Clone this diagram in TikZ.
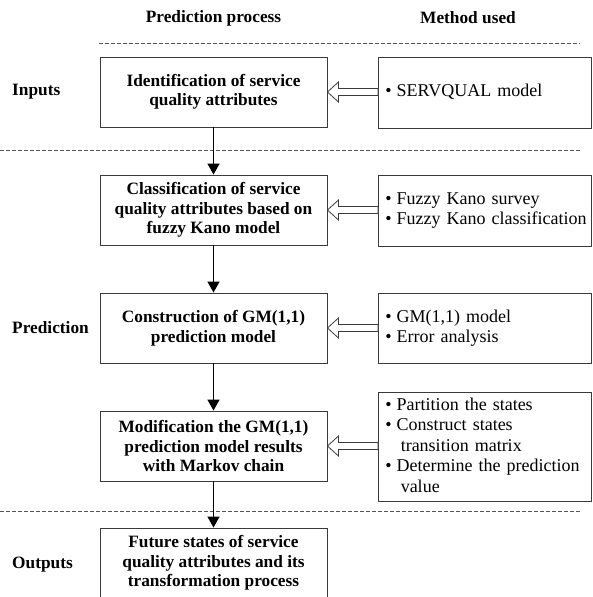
\documentclass[tikz,border=0pt]{standalone}
\usepackage{fontspec}
\setmainfont{Liberation Serif}
\usetikzlibrary{arrows.meta,calc}
\definecolor{boxc}{HTML}{3A3A3A}
\definecolor{sepc}{HTML}{555555}
\begin{document}
\begin{tikzpicture}[x=1pt,y=-1pt,
  leftbox/.style={draw=boxc, line width=0.9pt, minimum width=227pt, minimum height=70pt,
    inner sep=0pt, align=center, font=\bfseries\fontsize{17.3}{19.5}\selectfont},
  rightbox/.style={draw=boxc, line width=0.9pt, minimum width=213pt, inner xsep=7pt,
    text width=199pt, align=left, anchor=north west, font=\fontsize{18}{20.5}\selectfont},
  lab/.style={font=\bfseries\fontsize{17.3}{19.5}\selectfont, inner sep=0pt},
  seplin/.style={draw=sepc, line width=0.8pt, dash pattern=on 4pt off 2pt},
  downarr/.style={draw=black, line width=1.4pt, -{Triangle[width=12pt,length=11pt]}},
  hollowarr/.style={draw=boxc, line width=0.8pt, fill=white, line join=miter}
]
\useasboundingbox (0,0) rectangle (592,597);

% headers
\node[lab] (h1) at (213.5,18) {Prediction process};
\node[lab] (h2) at (468,18) {Method used};

% separators
\coordinate (s1a) at (99,43);  \coordinate (s1b) at (580,43);
\coordinate (s2a) at (0,150);  \coordinate (s2b) at (580,150);
\coordinate (s3a) at (0,511);  \coordinate (s3b) at (580,511);
\draw[seplin] (s1a) -- (s1b);
\draw[seplin] (s2a) -- (s2b);
\draw[seplin] (s3a) -- (s3b);

% stage labels
\node[lab, anchor=west] (l1) at (12,92) {Inputs};
\node[lab, anchor=west] (l2) at (12,328) {Prediction};
\node[lab, anchor=west] (l3) at (12,565) {Outputs};

% left process boxes
\node[leftbox] (b1) at (213.5,92) {Identification of service\\quality attributes};
\node[leftbox] (b2) at (213.5,210) {Classification of service\\quality attributes based on\\fuzzy Kano model};
\node[leftbox] (b3) at (213.5,328) {Construction of GM(1,1)\\prediction model};
\node[leftbox] (b4) at (213.5,446) {Modification the GM(1,1)\\prediction model results\\with Markov chain};
\node[leftbox] (b5) at (213.5,563) {Future states of service\\quality attributes and its\\transformation process};

% right method boxes
\node[rightbox, minimum height=71pt] (r1) at (378,56.5) {%
  \begin{tabular}{@{}l@{\hspace{5pt}}l@{}}\textbullet & SERVQUAL model\end{tabular}};
\node[rightbox, minimum height=71pt] (r2) at (378,174.5) {%
  \begin{tabular}{@{}l@{\hspace{5pt}}l@{}}\textbullet & Fuzzy Kano survey\\ \textbullet & Fuzzy Kano classification\end{tabular}};
\node[rightbox, minimum height=70pt] (r3) at (378,293) {%
  \begin{tabular}{@{}l@{\hspace{5pt}}l@{}}\textbullet & GM(1,1) model\\ \textbullet & Error analysis\end{tabular}};
\node[rightbox, minimum height=103pt] (r4) at (378,392) {%
  \begin{tabular}{@{}l@{\hspace{5pt}}l@{}}\textbullet & Partition the states\\ \textbullet & Construct states\\ & \hspace{4pt}transition matrix\\ \textbullet & Determine the prediction\\ & \hspace{4pt}value\end{tabular}};

% down arrows
\draw[downarr] (b1.south) -- (b2.north);
\draw[downarr] (b2.south) -- (b3.north);
\draw[downarr] (b3.south) -- (b4.north);
\draw[downarr] (b4.south) -- (b5.north);

% hollow arrows from method to process
\foreach \i in {1,2,3,4}{
  \draw[hollowarr] (b\i.east) -- ++(11,-10) -- ++(0,6.5)
    -- ($(r\i.west |- b\i.east)+(0,-3.5)$) -- ++(0,7)
    -- ($(b\i.east)+(11,3.5)$) -- ++(0,6.5) -- cycle;
}
\end{tikzpicture}
\end{document}
